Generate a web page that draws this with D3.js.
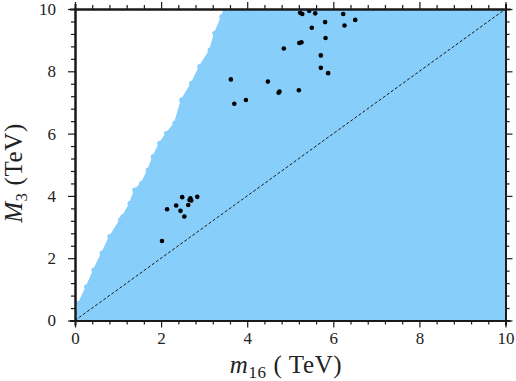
<!DOCTYPE html>
<html>
<head>
<meta charset="utf-8">
<script src="https://cdn.jsdelivr.net/npm/d3@7"></script>
<style>
  body { margin: 0; background: #fff; }
  svg text { font-family: 'Liberation Serif', 'DejaVu Serif', serif !important; }
</style>
</head>
<body>
<svg id="chart" width="516" height="381"></svg>
<script>

// Upper-left edge of the allowed (blue) region, [m16, M3] in TeV
let edge_m16 = [0.00, 0.09, 0.27, 0.44, 0.63, 0.81, 1.06, 1.11, 1.28, 1.39, 1.55, 1.70, 1.82, 1.97, 2.13, 2.32, 2.48, 2.71, 2.90, 3.14, 3.25, 3.41, 3.48];
let edge_M3  = [0.00, 0.55, 1.08, 1.62, 2.16, 2.69, 3.23, 3.33, 3.76, 4.19, 4.40, 4.83, 5.26, 5.69, 6.01, 6.33, 7.08, 7.61, 8.15, 8.68, 9.22, 9.75, 10.00];

// Benchmark points (black dots)
let pts_m16 = [5.23, 5.28, 5.44, 5.58, 6.23, 5.81, 6.26, 6.51, 5.50, 5.82, 5.21, 5.26, 4.85, 5.71, 5.71, 5.88, 4.48, 4.73, 4.75, 5.20, 3.62, 3.70, 3.97,
               2.49, 2.68, 2.70, 2.66, 2.84, 2.35, 2.63, 2.14, 2.45, 2.54, 2.02];
let pts_M3  = [9.88, 9.84, 9.94, 9.86, 9.84, 9.58, 9.47, 9.65, 9.40, 9.07, 8.91, 8.93, 8.73, 8.51, 8.11, 7.94, 7.67, 7.31, 7.35, 7.39, 7.74, 6.96, 7.08,
               3.96, 3.92, 3.85, 3.87, 3.97, 3.69, 3.71, 3.57, 3.52, 3.34, 2.55];

let x_ticks = [0, 2, 4, 6, 8, 10],
    y_ticks = [0, 2, 4, 6, 8, 10];

let svg = d3.select('#chart'),
    x = d3.scaleLinear().domain([0, 10]).range([75, 505.5]),
    y = d3.scaleLinear().domain([0, 10]).range([320.5, 9]);

let blue = '#87cefa',
    ink = '#1a1a1a';

// clip to plot area (a little slack at the bottom, markers spill there)
svg.append('clipPath')
    .attr('id', 'plot')
  .append('rect')
    .attr('x', x(0))
    .attr('y', y(10))
    .attr('width', x(10) - x(0))
    .attr('height', y(0) - y(10) + 2);

let g = svg.append('g').attr('clip-path', 'url(#plot)');

// Region polygon: edge, then along top to the right, down to the bottom-right
let region = edge_m16.map((d, i) => [d, edge_M3[i]]);
region.push([10, 10], [10, 0]);

g.append('path')
    .datum(region)
    .attr('d', d3.line().x(d => x(d[0])).y(d => y(d[1])))
    .attr('fill', blue)
    .attr('stroke', blue)
    .attr('stroke-width', 2)
    .attr('stroke-linejoin', 'round');

// scatter markers along the edge give the ragged border
g.selectAll('.edge')
    .data(edge_m16)
    .enter()
    .append('circle')
    .attr('class', 'edge')
    .attr('cx', d => x(d))
    .attr('cy', (d, i) => y(edge_M3[i]))
    .attr('r', 2.6)
    .attr('fill', blue);

// M3 = m16 reference line
g.append('line')
    .attr('x1', x(0))
    .attr('y1', y(0))
    .attr('x2', x(10))
    .attr('y2', y(10))
    .attr('stroke', ink)
    .attr('stroke-width', 1)
    .attr('stroke-dasharray', '3,2');

g.selectAll('.pt')
    .data(pts_m16)
    .enter()
    .append('circle')
    .attr('class', 'pt')
    .attr('cx', d => x(d))
    .attr('cy', (d, i) => y(pts_M3[i]))
    .attr('r', 2.3)
    .attr('fill', '#000');

// Axes on all four sides, ticks outward, 4 minor ticks between majors
let minor = d3.range(0, 10.001, 0.4).filter(v => Math.abs(v / 2 - Math.round(v / 2)) > 1e-6);

function frame (axis, scale, pos, ticks, labels) {

    let a = svg.append('g')
        .attr('transform', pos);

    a.call(axis(scale).tickValues(minor).tickSize(4).tickFormat(''));

    let major = svg.append('g')
        .attr('transform', pos)
        .call(axis(scale).tickValues(ticks).tickSize(7).tickSizeOuter(0)
            .tickFormat(labels ? d3.format('d') : ''));

    [a, major].forEach(s => {
        s.attr('font-family', null);
        s.selectAll('path').attr('stroke', ink).attr('stroke-width', 2);
        s.selectAll('line').attr('stroke', ink).attr('stroke-width', 1.2);
    });

    major.selectAll('text')
        .attr('font-size', 17)
        .attr('fill', '#222');

    return major;
}

let bottom = frame(d3.axisBottom, x, 'translate(0,' + y(0) + ')', x_ticks, true);
bottom.selectAll('text').attr('y', 11);
frame(d3.axisTop, x, 'translate(0,' + y(10) + ')', x_ticks, false);
let left = frame(d3.axisLeft, y, 'translate(' + x(0) + ',0)', y_ticks, true);
left.selectAll('text').attr('x', -19);
frame(d3.axisRight, y, 'translate(' + x(10) + ',0)', y_ticks, false);

svg.selectAll('.domain').attr('stroke-linecap', 'square');

// Axis titles
let xt = svg.append('text')
    .attr('x', 286)
    .attr('y', 373)
    .attr('text-anchor', 'middle')
    .attr('font-size', 25)
    .attr('letter-spacing', 0.6)
    .attr('fill', '#222');
xt.append('tspan').attr('font-style', 'italic').text('m');
xt.append('tspan').attr('dy', 5).attr('font-size', 17).text('16');
xt.append('tspan').attr('dy', -5).text(' ( TeV)');

let yt = svg.append('text')
    .attr('transform', 'translate(22,173) rotate(-90)')
    .attr('text-anchor', 'middle')
    .attr('font-size', 25)
    .attr('letter-spacing', 0.6)
    .attr('fill', '#222');
yt.append('tspan').attr('font-style', 'italic').text('M');
yt.append('tspan').attr('dy', 5).attr('font-size', 17).text('3');
yt.append('tspan').attr('dy', -5).text(' (TeV)');

</script>
</body>
</html>
